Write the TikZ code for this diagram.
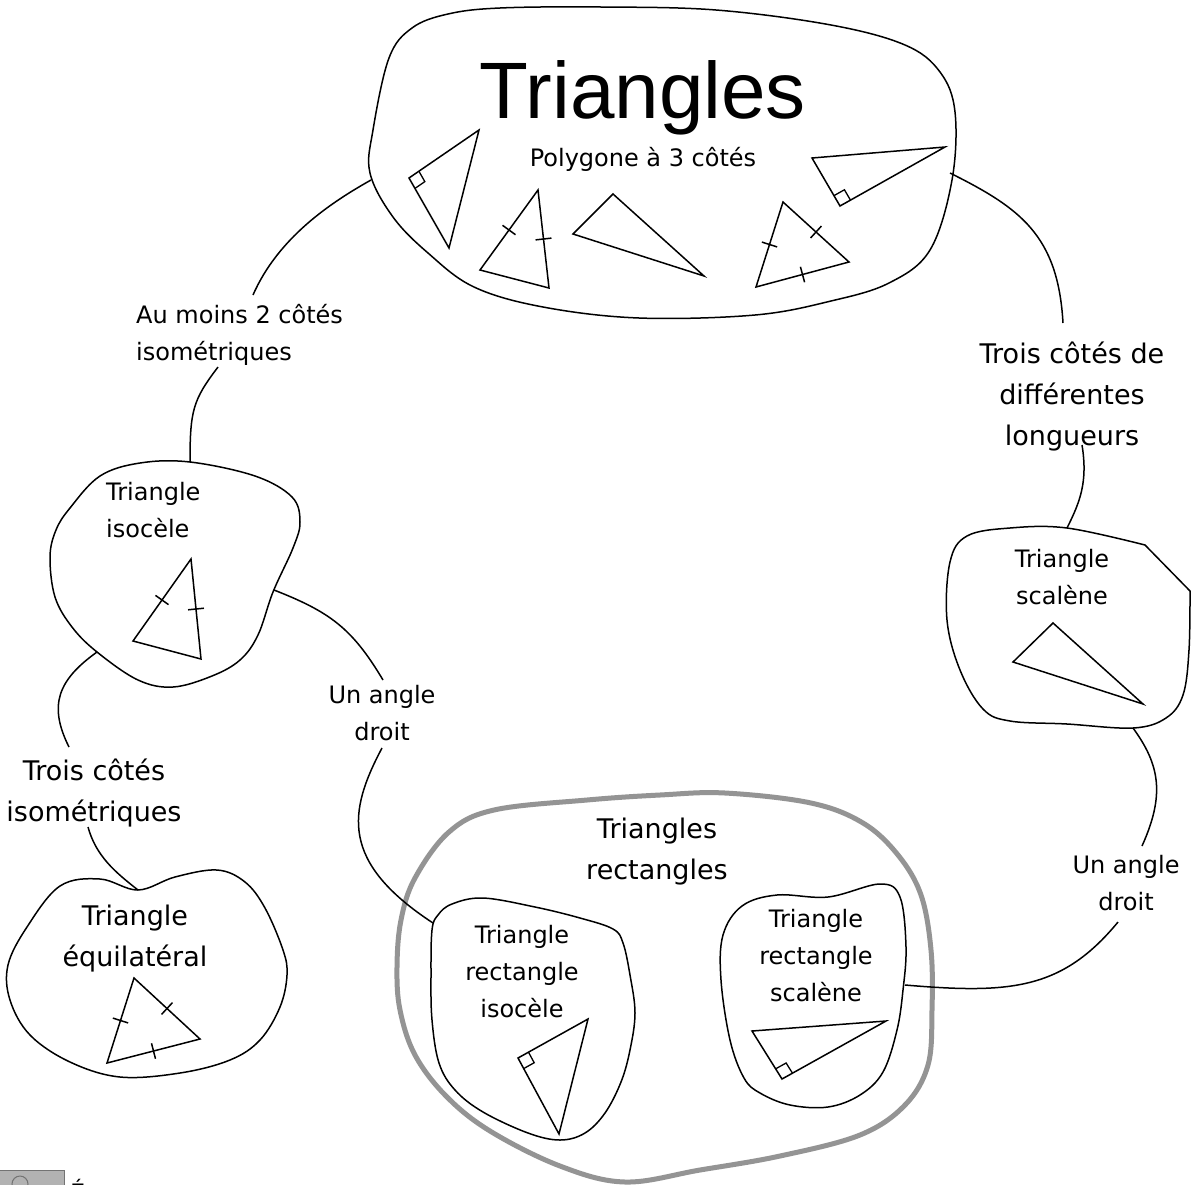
\documentclass[tikz,border=0pt]{standalone}
\usepackage{fontspec}
\setmainfont{DejaVu Sans}
\newfontfamily\titlefont{Liberation Sans}
\usetikzlibrary{calc}

\tikzset{
  blob/.style={draw=black, line width=1.5pt, line join=round},
  setblob/.style={draw=black!42, line width=5pt, line join=round},
  link/.style={draw=black, line width=1.5pt},
  fig/.style={draw=black, line width=1.5pt, line join=miter},
  lbl/.style={inner sep=0pt, align=center, font=\fontsize{24}{37}\selectfont},
  biglbl/.style={inner sep=0pt, align=center, font=\fontsize{27}{41}\selectfont},
}

% triangle from three vertices, with named corners #1a, #1b, #1c
\newcommand\drawtri[4]{%
  \coordinate (#1a) at #2; \coordinate (#1b) at #3; \coordinate (#1c) at #4;
  \draw[fig] (#1a) -- (#1b) -- (#1c) -- cycle;}
% equal-length tick across the middle of side #1--#2
\newcommand\tickmark[2]{%
  \draw[fig] ($(#1)!.5!(#2)!8pt!90:(#2)$) -- ($(#1)!.5!(#2)!8pt!-90:(#2)$);}
% right-angle square at vertex #1 between legs towards #2 and #3
\newcommand\rtmark[3]{%
  \draw[fig, line width=1.3pt] ($(#1)!12pt!(#2)$) -- ($(#1)!12pt!(#2)+(#1)!12pt!(#3)-(#1)$) -- ($(#1)!12pt!(#3)$);}

\begin{document}
\begin{tikzpicture}[x=1pt,y=-1pt]
\useasboundingbox (0,0) rectangle (1191,1184);
\fill[white] (0,0) rectangle (1191,1184);

% ---------- outlines ----------
% all triangles
\draw[blob] plot[smooth cycle, tension=0.6] coordinates {
  (370,173) (373,130) (389,58) (412,28) (448,14) (500,8) (601,7) (716,10)
  (831,25) (905,45) (940,72) (955,112) (952,180) (930,250) (889,283)
  (831,301) (755,315) (639,318) (543,307) (474,287) (428,253) (393,217)};
% isosceles
\draw[blob] plot[smooth cycle, tension=0.6] coordinates {
  (140,463) (190,462) (255,476) (292,497) (300,522) (293,548) (273,592)
  (258,635) (240,660) (212,676) (173,687) (138,680) (97,652) (72,627)
  (55,597) (50,557) (56,530) (70,508) (100,476)};
% equilateral
\draw[blob] plot[smooth cycle, tension=0.6] coordinates {
  (138,890) (175,877) (217,870) (245,882) (265,908) (283,950) (287,975)
  (280,1007) (260,1040) (230,1060) (180,1073) (120,1077) (70,1062)
  (30,1035) (10,1000) (8,965) (27,927) (60,886) (100,879)};
% scalene
\draw[blob] plot[smooth, tension=0.6] coordinates {
  (1145,545) (1067,528) (1010,528) (967,536) (950,562) (947,620) (960,670)
  (983,709) (1010,721) (1067,724) (1133,728) (1166,718) (1183,695)
  (1189,650) (1190,591)} -- cycle;
% right triangles (set)
\draw[setblob] plot[smooth cycle, tension=0.6] coordinates {
  (397,967) (401,920) (415,878) (449,832) (494,810) (587,800) (660,795)
  (725,793) (811,803) (863,823) (898,855) (921,895) (931,950) (932,1010)
  (928,1065) (905,1105) (860,1135) (780,1156) (700,1170) (625,1182)
  (560,1166) (490,1131) (446,1096) (415,1055) (400,1010)};
% isosceles right
\draw[blob] plot[smooth cycle, tension=0.6] coordinates {
  (432,930) (438,915) (452,904) (483,898) (535,907) (580,918) (613,929)
  (623,943) (630,975) (635,1013) (630,1050) (621,1082) (605,1113)
  (585,1133) (560,1140) (528,1133) (483,1112) (455,1090) (439,1063)
  (432,1020) (431,975)};
% scalene right
\draw[blob] plot[smooth cycle, tension=0.6] coordinates {
  (723,935) (742,906) (777,895) (828,897) (880,884) (900,897) (906,947)
  (903,990) (897,1030) (883,1072) (860,1095) (828,1107) (790,1105)
  (760,1093) (744,1078) (730,1040) (721,980)};

% ---------- texts ----------
\node[anchor=base, inner sep=0pt, font=\titlefont\fontsize{80}{90}\selectfont] (title) at (643,118) {Triangles};
\node[lbl, anchor=base] (poly) at (643,166) {Polygone à 3 côtés};
\node[lbl, anchor=north west, align=left] (atleast) at (136,304) {Au moins 2 côtés\\isométriques};
\node[biglbl, anchor=north] (diff) at (1072,342) {Trois côtés de\\différentes\\longueurs};
\node[lbl, anchor=north west, align=left] (iso) at (106,482) {Triangle\\isocèle};
\node[biglbl, anchor=north] (three) at (94,759) {Trois côtés\\isométriques};
\node[lbl, anchor=north] (rightL) at (382,685) {Un angle\\droit};
\node[biglbl, anchor=north] (equi) at (135,905) {Triangle\\équilatéral};
\node[biglbl, anchor=north] (rectset) at (657,818) {Triangles\\rectangles};
\node[lbl, anchor=north] (rectiso) at (522,925) {Triangle\\rectangle\\isocèle};
\node[lbl, anchor=north] (rectsca) at (816,909) {Triangle\\rectangle\\scalène};
\node[lbl, anchor=north] (sca) at (1062,549) {Triangle\\scalène};
\node[lbl, anchor=north] (rightR) at (1126,855) {Un angle\\droit};

% ---------- figures ----------
\drawtri{ta}{(409,178)}{(479,130)}{(449,248)}
\rtmark{taa}{tab}{tac}
\drawtri{tb}{(538,190)}{(480,270)}{(549,288)}
\tickmark{tba}{tbb}\tickmark{tba}{tbc}
\drawtri{tc}{(613,194)}{(573,234)}{(704,276)}
\drawtri{td}{(783,202)}{(756,287)}{(849,262)}
\tickmark{tda}{tdb}\tickmark{tda}{tdc}\tickmark{tdb}{tdc}
\drawtri{te}{(812,158)}{(945,147)}{(840,206)}
\rtmark{tec}{tea}{teb}
\drawtri{iso}{(191,559)}{(133,641)}{(201,659)}
\tickmark{isoa}{isob}\tickmark{isoa}{isoc}
\drawtri{eq}{(134,978)}{(200,1039)}{(107,1063)}
\tickmark{eqa}{eqb}\tickmark{eqb}{eqc}\tickmark{eqc}{eqa}
\drawtri{sc}{(1053,623)}{(1013,662)}{(1143,704)}
\drawtri{ri}{(588,1019)}{(518,1058)}{(559,1134)}
\rtmark{rib}{ria}{ric}
\drawtri{rs}{(752,1031)}{(886,1021)}{(782,1079)}
\rtmark{rsc}{rsa}{rsb}

% ---------- connectors ----------
\coordinate (topW) at (371,180);
\coordinate (atleastN) at (253,295);
\coordinate (atleastS) at (218,367);
\coordinate (isoN) at (190,462);
\coordinate (isoE) at (274,590);
\coordinate (isoSW) at (97,652);
\coordinate (rightLN) at (383,680);
\coordinate (rightLS) at (382,748);
\coordinate (rectisoW) at (433,923);
\coordinate (threeN) at (69,747);
\coordinate (threeS) at (88,827);
\coordinate (equiN) at (138,890);
\coordinate (topE) at (950,173);
\coordinate (diffN) at (1063,323);
\coordinate (diffS) at (1082,445);
\coordinate (scaN) at (1067,528);
\coordinate (scaS) at (1133,728);
\coordinate (rightRN) at (1142,846);
\coordinate (rightRS) at (1118,922);
\coordinate (rectscaE) at (905,985);

\draw[link] (topW) .. controls (330,203) and (278,238) .. (atleastN);
\draw[link] (atleastS) .. controls (193,400) and (190,410) .. (isoN);
\draw[link] (isoE) .. controls (330,612) and (352,628) .. (rightLN);
\draw[link] (rightLS) .. controls (348,812) and (340,862) .. (rectisoW);
\draw[link] (isoSW) .. controls (58,680) and (48,705) .. (threeN);
\draw[link] (threeS) .. controls (96,856) and (115,872) .. (equiN);
\draw[link] (topE) .. controls (1020,208) and (1058,235) .. (diffN);
\draw[link] (diffS) .. controls (1088,482) and (1080,502) .. (scaN);
\draw[link] (scaS) .. controls (1160,765) and (1165,795) .. (rightRN);
\draw[link] (rightRS) .. controls (1062,990) and (1010,994) .. (rectscaE);

% ---------- window strip at the foot of the page ----------
\fill[black!30] (0,1170) rectangle (64,1190);
\draw[black!55, line width=1pt] (0,1170) -- (64,1170) -- (64,1190);
\draw[black!55, line width=1pt] (20,1184) circle (8);
\node[anchor=base west, inner sep=0pt, font=\fontsize{24}{30}\selectfont] (tail) at (70,1201) {É};
\end{tikzpicture}
\end{document}
